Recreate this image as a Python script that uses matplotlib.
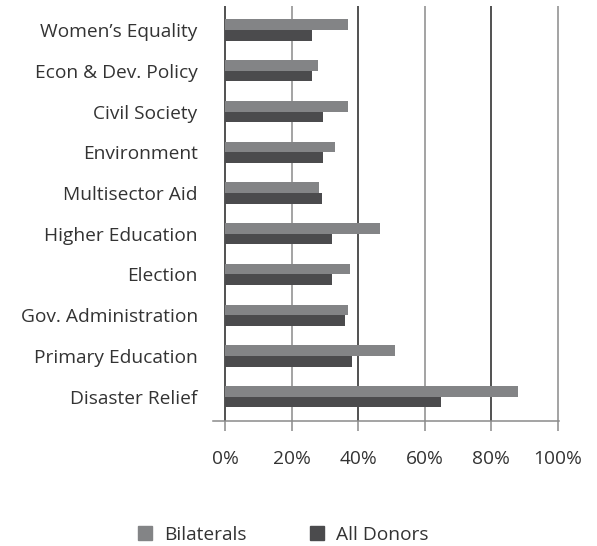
import numpy as np
import matplotlib
matplotlib.use('Agg')
import matplotlib.pyplot as plt
from matplotlib.patches import Patch

plt.rcParams['font.family'] = ['Open Sans', 'DejaVu Sans']

# 카테고리 (위에서 아래 순서)
categories = [
    "Women\u2019s Equality",
    "Econ & Dev. Policy",
    "Civil Society",
    "Environment",
    "Multisector Aid",
    "Higher Education",
    "Election",
    "Gov. Administration",
    "Primary Education",
    "Disaster Relief",
]
bilaterals = [37, 28, 37, 33, 28.3, 46.5, 37.5, 37, 51, 88]
all_donors = [26, 26, 29.5, 29.5, 29, 32, 32, 36, 38, 65]
tick_values = [0, 20, 40, 60, 80, 100]
tick_labels = ["0%", "20%", "40%", "60%", "80%", "100%"]

c_bil = "#838486"
c_all = "#4b4b4d"
text_c = "#333333"
fs = 13.8

fig = plt.figure(figsize=(5.97, 5.46), dpi=100)
ax = fig.add_axes([213 / 597, 1 - 420.7 / 546, 346 / 597, (420.7 - 6) / 546])

y = np.arange(len(categories))
h = 0.26
ax.barh(y - h / 2, bilaterals, height=h, color=c_bil, zorder=3)
ax.barh(y + h / 2, all_donors, height=h, color=c_all, zorder=3)

# 세로 격자선: 진한 선과 회색 선이 번갈아
for i, v in enumerate(tick_values):
    ax.axvline(v, color="#222222" if i % 2 == 0 else "#8a8a8a", lw=1.1, zorder=1)

ax.set_xlim(-3.6, 100.3)
ax.set_ylim(len(categories) - 1 + 0.59, -0.59)

for side in ["left", "right", "top"]:
    ax.spines[side].set_visible(False)
ax.spines["bottom"].set_color("#8a8a8a")
ax.spines["bottom"].set_linewidth(1.1)

ax.set_xticks(tick_values)
ax.set_xticklabels(tick_labels, fontsize=fs, color=text_c)
ax.tick_params(axis="x", length=7, width=1.1, color="#8a8a8a", pad=14)

ax.set_yticks(y)
ax.set_yticklabels(categories, fontsize=fs, color=text_c)
ax.tick_params(axis="y", length=0, pad=11)

handles = [Patch(color=c_bil, label="Bilaterals"), Patch(color=c_all, label="All Donors")]
fig.legend(handles=handles, loc="center", bbox_to_anchor=(283 / 597, 1 - 535 / 546),
           ncol=2, frameon=False, fontsize=fs, handlelength=0.75, handleheight=0.75,
           columnspacing=3.3, handletextpad=0.6, labelcolor=text_c)

fig.savefig("out.png", dpi=100)
